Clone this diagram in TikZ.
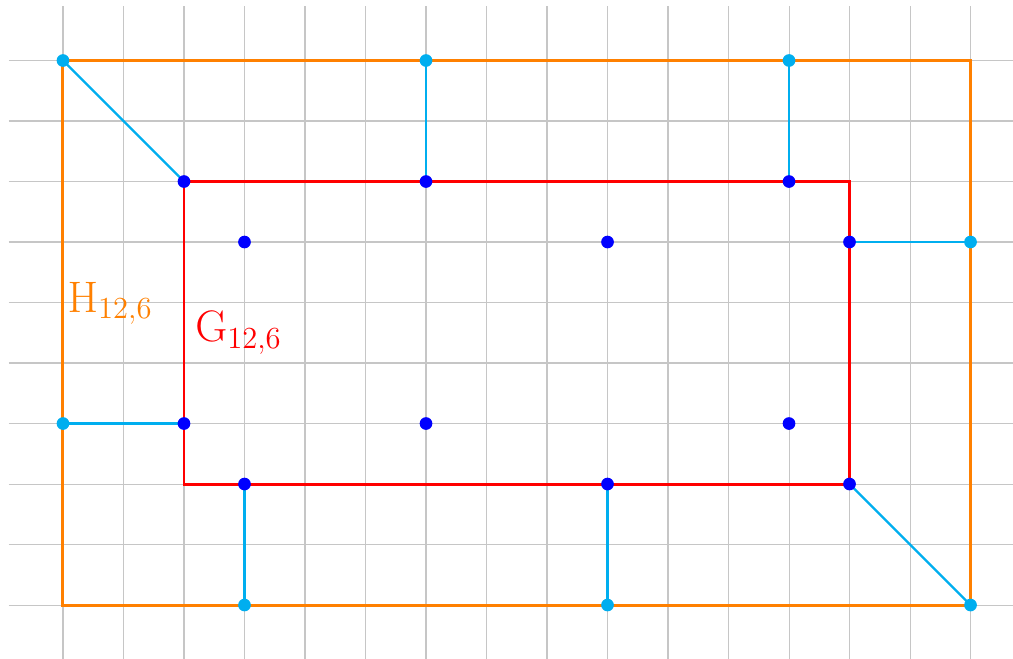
\documentclass[tikz,border=0pt]{standalone}
\usetikzlibrary{calc, positioning}
\definecolor{hcol}{RGB}{255,128,0}
\definecolor{linkcol}{RGB}{0,174,239}
\tikzset{
  gridline/.style={gray!45, line width=0.5pt},
  hframe/.style={hcol, line width=1.4pt},
  gframe/.style={red, line width=1.4pt},
  link/.style={linkcol, line width=1.1pt},
  gdot/.style={fill=blue},
  hdot/.style={fill=linkcol},
}
\begin{document}
\begin{tikzpicture}[x=1cm,y=1cm]
\useasboundingbox (-1.041,-0.876) rectangle (15.702,10.0);
\clip (-1.041,-0.876) rectangle (15.702,10.0);
\draw[gridline] (-0.9,-0.9) grid (15.9,9.9);

% outer vertices
\coordinate (H1) at (0,9);
\coordinate (H2) at (6,9);
\coordinate (H3) at (12,9);
\coordinate (H4) at (15,6);
\coordinate (H5) at (0,3);
\coordinate (H6) at (3,0);
\coordinate (H7) at (9,0);
\coordinate (H8) at (15,0);

% inner vertices
\coordinate (G1) at (2,7);
\coordinate (G2) at (6,7);
\coordinate (G3) at (12,7);
\coordinate (G4) at (13,6);
\coordinate (G5) at (2,3);
\coordinate (G6) at (3,2);
\coordinate (G7) at (9,2);
\coordinate (G8) at (13,2);
\coordinate (G9) at (3,6);
\coordinate (G10) at (9,6);
\coordinate (G11) at (6,3);
\coordinate (G12) at (12,3);

\draw[hframe] (H1) rectangle (H8);
\draw[gframe] (G1) rectangle (G8);

\draw[link] (H1) -- (G1);
\draw[link] (H2) -- (G2);
\draw[link] (H3) -- (G3);
\draw[link] (G4) -- (H4);
\draw[link] (H5) -- (G5);
\draw[link] (G6) -- (H6);
\draw[link] (G7) -- (H7);
\draw[link] (G8) -- (H8);

\foreach \i in {1,...,8} \fill[hdot] (H\i) circle (0.105);
\foreach \i in {1,...,12} \fill[gdot] (G\i) circle (0.105);

\node[hcol, anchor=base west, inner sep=0pt] (hlabel) at (0.07,4.84) {\huge$\mathrm{H}_{12,6}$};
\node[red, anchor=base west, inner sep=0pt] (glabel) at (2.18,4.35) {\huge$\mathrm{G}_{12,6}$};
\end{tikzpicture}
\end{document}
